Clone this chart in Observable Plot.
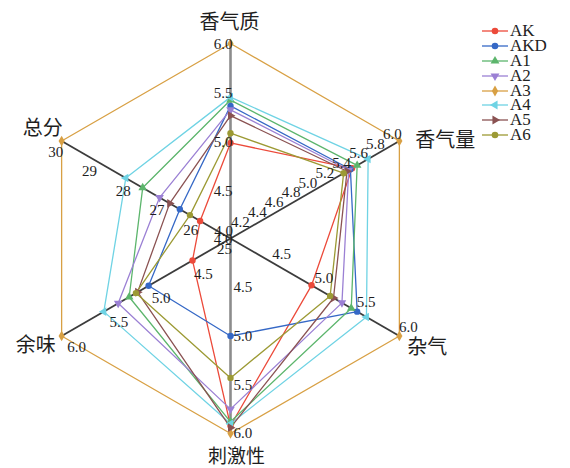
<!DOCTYPE html>
<html><head><meta charset="utf-8">
<script src="https://cdn.jsdelivr.net/npm/d3@7"></script>
<script src="https://cdn.jsdelivr.net/npm/@observablehq/plot@0.6"></script>
<style>
body{margin:0;background:#fff;}
#wrap{position:relative;width:570px;height:468px;}
#legend{position:absolute;left:480px;top:24px;font-family:"Liberation Serif",serif;font-size:17px;color:#222;}
.row{height:14.8px;display:flex;align-items:center;}
.row span{margin-left:2px;line-height:14px;}
</style></head>
<body><div id="wrap"><div id="chart"></div><div id="legend"></div></div>
<script>
// ---- data ----
const categories = ["香气质","香气量","杂气","刺激性","余味","总分"];
const axisMin = [4, 4, 4, 4, 4, 25];
const axisMax = [6, 6, 6, 6, 6, 30];
const ticks0 = [4.0, 4.5, 5.0, 5.5, 6.0];
const ticks1 = [4.0, 4.2, 4.4, 4.6, 4.8, 5.0, 5.2, 5.4, 5.6, 5.8, 6.0];
const ticks2 = [4.5, 5.0, 5.5, 6.0];
const ticks3 = [4.5, 5.0, 5.5, 6.0];
const ticks4 = [4.5, 5.0, 5.5, 6.0];
const ticks5 = [25, 26, 27, 28, 29, 30];
const seriesNames = ["AK","AKD","A1","A2","A3","A4","A5","A6"];
const AK  = [4.98, 5.44, 4.96, 5.92, 4.45, 25.9];
const AKD = [5.36, 5.42, 5.50, 5.00, 4.97, 26.5];
const A1  = [5.42, 5.50, 5.43, 5.88, 5.20, 27.6];
const A2  = [5.32, 5.40, 5.32, 5.75, 5.33, 27.1];
const A3  = [6.0, 6.0, 6.0, 6.0, 6.0, 30];
const A4  = [5.45, 5.63, 5.61, 5.90, 5.50, 28.1];
const A5  = [5.26, 5.38, 5.22, 5.94, 5.10, 26.8];
const A6  = [5.08, 5.34, 5.18, 5.43, 5.12, 26.2];
const seriesValues = [AK, AKD, A1, A2, A3, A4, A5, A6];

// ---- styles ----
const colors = ["#ec4a3a","#3568c6","#5cb56c","#9b80d4","#d8a044","#6fd3e4","#8a5252","#9c9a34"];
const angles = [90, 30, -30, -90, 210, 150].map(a => a * Math.PI / 180);
const allTicks = [ticks0, ticks1, ticks2, ticks3, ticks4, ticks5];
const tickStyle = [
  {textAnchor:"end", dx:2, dy:1},
  {textAnchor:"middle", dx:-7, dy:-7},
  {textAnchor:"middle", dx:9, dy:-9},
  {textAnchor:"start", dx:3, dy:0},
  {textAnchor:"middle", dx:15, dy:11},
  {textAnchor:"middle", dx:-6, dy:11}
];
const titleStyle = [
  {textAnchor:"middle", dx:-1, dy:-21},
  {textAnchor:"start", dx:16, dy:0},
  {textAnchor:"start", dx:8, dy:12},
  {textAnchor:"middle", dx:6, dy:23},
  {textAnchor:"end", dx:-6, dy:10},
  {textAnchor:"end", dx:1, dy:-12}
];
// custom symbols
const s3 = Math.sqrt(3);
const triDown = {draw(c, size){const y=-Math.sqrt(size/(s3*3)); c.moveTo(0,-y*2); c.lineTo(-s3*y,y); c.lineTo(s3*y,y); c.closePath();}};
const triLeft = {draw(c, size){const y=-Math.sqrt(size/(s3*3)); c.moveTo(y*2,0); c.lineTo(-y,-s3*y); c.lineTo(-y,s3*y); c.closePath();}};
const triRight = {draw(c, size){const y=-Math.sqrt(size/(s3*3)); c.moveTo(-y*2,0); c.lineTo(y,-s3*y); c.lineTo(y,s3*y); c.closePath();}};
const symbols = ["circle","circle","triangle",triDown,"diamond",triLeft,triRight,"circle"];
const d3sym = s => typeof s === "string" ? ({circle:d3.symbolCircle,triangle:d3.symbolTriangle,diamond:d3.symbolDiamond})[s] : s;

// ---- geometry ----
const W = 570, H = 468, CX = 230, CY = 238, R = 195;
const norm = categories.map((c, i) => d3.scaleLinear().domain([axisMin[i], axisMax[i]]).range([0, 1]));
const pos = (i, v) => { const f = norm[i](v); return [f * Math.cos(angles[i]), f * Math.sin(angles[i])]; };

const rows = [];
seriesNames.forEach((s, k) => seriesValues[k].forEach((v, i) => {
  const [x, y] = pos(i, v); rows.push({series: s, k, axis: categories[i], value: v, x, y});
}));
const axesRows = categories.map((c, i) => { const [x, y] = pos(i, axisMax[i]); return {c, i, x, y}; });

const marks = [];
// axis lines
marks.push(Plot.link(axesRows.filter(d => d.i === 0 || d.i === 3), {x1: 0, y1: 0, x2: "x", y2: "y", stroke: "#8c8c8c", strokeWidth: 2.6}));
marks.push(Plot.link(axesRows.filter(d => d.i !== 0 && d.i !== 3), {x1: 0, y1: 0, x2: "x", y2: "y", stroke: "#3c3c3c", strokeWidth: 1.8}));
// series lines
seriesNames.forEach((s, k) => {
  marks.push(Plot.line(rows.filter(d => d.k === k), {x: "x", y: "y", curve: "linear-closed", stroke: colors[k], strokeWidth: 1.3}));
});
// markers
seriesNames.forEach((s, k) => {
  marks.push(Plot.dot(rows.filter(d => d.k === k), {x: "x", y: "y", symbol: symbols[k], fill: colors[k], stroke: "none", r: 3.2}));
});
// tick labels
allTicks.forEach((tk, i) => {
  const data = tk.map(v => { const [x, y] = pos(i, v); return {x, y, t: i === 5 ? String(v) : v.toFixed(1)}; });
  marks.push(Plot.text(data, {x: "x", y: "y", text: "t", ...tickStyle[i], fontSize: 15, fontFamily: "Liberation Serif", fill: "#1e1e1e"}));
});
// axis titles
axesRows.forEach((d, i) => {
  marks.push(Plot.text([d], {x: "x", y: "y", text: "c", ...titleStyle[i], fontSize: i === 3 ? 19 : 20, fontFamily: "Noto Sans CJK SC", fill: "#1e1e1e"}));
});

const chart = Plot.plot({
  width: W, height: H,
  marginTop: 0, marginRight: 0, marginBottom: 0, marginLeft: 0,
  x: {domain: [-CX / R, (W - CX) / R], range: [0, W], axis: null},
  y: {domain: [-(H - CY) / R, CY / R], range: [H, 0], axis: null},
  style: {background: "#fff", overflow: "visible"},
  marks
});
document.getElementById("chart").appendChild(chart);

// legend
const leg = d3.select("#legend");
seriesNames.forEach((s, k) => {
  const row = leg.append("div").attr("class", "row");
  const svg = row.append("svg").attr("width", 28).attr("height", 12);
  svg.append("line").attr("x1", 2).attr("x2", 28).attr("y1", 6).attr("y2", 6).attr("stroke", colors[k]).attr("stroke-width", 1.3);
  svg.append("path").attr("transform", "translate(15,6)").attr("d", d3.symbol(d3sym(symbols[k]), 34)()).attr("fill", colors[k]);
  row.append("span").text(s);
});
</script></body></html>
